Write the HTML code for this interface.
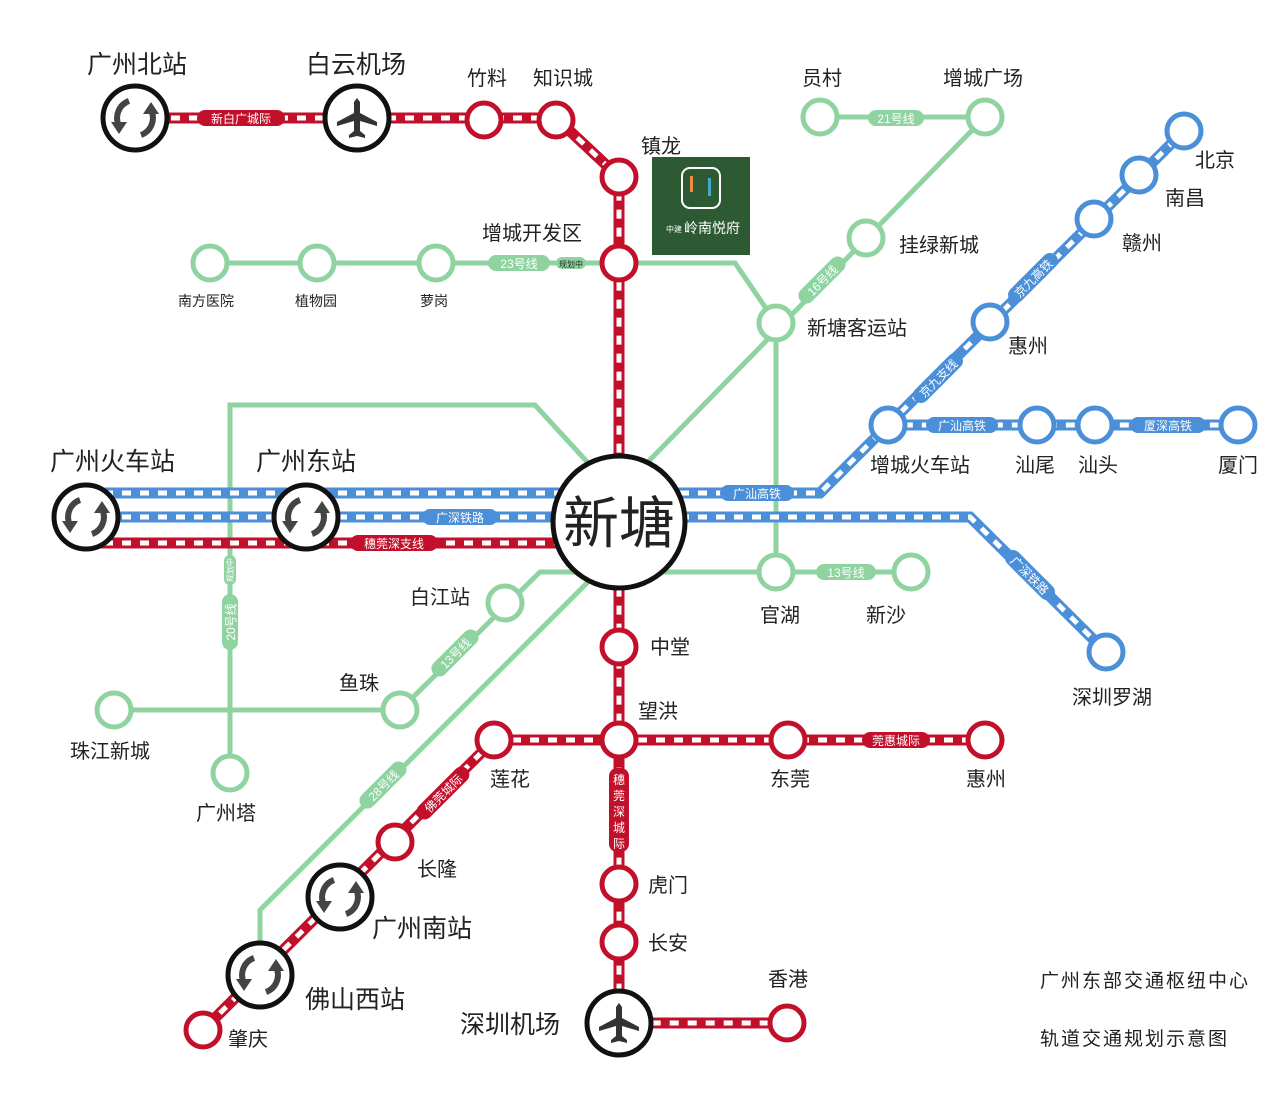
<!DOCTYPE html>
<html><head><meta charset="utf-8"><style>
html,body{margin:0;padding:0;background:#fff;}
svg{display:block;}
text{font-family:"Liberation Sans","Noto Sans CJK SC",sans-serif;fill:#222;}
.b{font-size:25px;}
.m{font-size:20px;}
.s{font-size:14px;}
.p{font-size:12px;fill:#fff;}
</style></head><body>
<svg width="1280" height="1106" viewBox="0 0 1280 1106" xmlns="http://www.w3.org/2000/svg">
<defs>
<g id="xf">
<circle r="32" fill="#fff" stroke="#111" stroke-width="5"/>
<path d="M-6,-17 A18,18 0 0 0 -16,8" fill="none" stroke="#444" stroke-width="6"/>
<polygon points="-24,4 -8,4 -16,16" fill="#444"/>
<path d="M6,17 A18,18 0 0 0 16,-8" fill="none" stroke="#444" stroke-width="6"/>
<polygon points="24,-4 8,-4 16,-16" fill="#444"/>
</g>
<g id="ap">
<circle r="32" fill="#fff" stroke="#111" stroke-width="5"/>
<path d="M0,-20 L3,-16 L3,-5 L20,4 L20,8 L3,3 L3,13 L8,17 L8,20 L0,18 L-8,20 L-8,17 L-3,13 L-3,3 L-20,8 L-20,4 L-3,-5 L-3,-16 Z" fill="#333"/>
</g>
</defs>

<g fill="none" stroke="#8fd3a0" stroke-width="5">
<path d="M820,117 H985"/>
<path d="M985,117 L640,470"/>
<path d="M210,263 H735 L776,323 V572"/>
<path d="M619,572 H911"/>
<path d="M600,572 H540 L400,710 H114"/>
<path d="M230,773 V405 H535 L590,465"/>
<path d="M590,580 L260,910 V945"/>
</g>

<g fill="none">
<path d="M86,493 H820 L888,425 H1238 M888,425 L1184,131" stroke="#4a8fd8" stroke-width="11"/>
<path d="M86,493 H820 L888,425 H1238 M888,425 L1184,131" stroke="#fff" stroke-width="5" stroke-dasharray="9 9"/>
<path d="M86,517 H970 L1106,652" stroke="#4a8fd8" stroke-width="11"/>
<path d="M86,517 H970 L1106,652" stroke="#fff" stroke-width="5" stroke-dasharray="9 9"/>
</g>

<g fill="none">
<path d="M135,118 H556 L619,177 V1023 H787 M494,740 H985 M494,740 L203,1030 M86,543 H619" stroke="#c2102b" stroke-width="11"/>
<path d="M135,118 H556 L619,177 V1023 H787 M494,740 H985 M494,740 L203,1030 M86,543 H619" stroke="#fff" stroke-width="5" stroke-dasharray="9 9"/>
</g>

<g>
<rect x="197" y="110" width="88" height="16" rx="8" fill="#c2102b"/><text class="p" x="241" y="123" text-anchor="middle">新白广城际</text>
<rect x="868" y="110" width="56" height="16" rx="8" fill="#8fd3a0"/><text class="p" x="896" y="123" text-anchor="middle">21号线</text>
<rect x="488" y="255" width="62" height="16" rx="8" fill="#8fd3a0"/><text class="p" x="519" y="268" text-anchor="middle">23号线</text>
<rect x="556" y="257" width="30" height="12" rx="6" fill="#8fd3a0"/><text x="571" y="267" font-size="8" fill="#fff" text-anchor="middle">规划中</text>
<rect x="720" y="485" width="74" height="16" rx="8" fill="#4a8fd8"/><text class="p" x="757" y="498" text-anchor="middle">广汕高铁</text>
<rect x="422" y="509" width="76" height="16" rx="8" fill="#4a8fd8"/><text class="p" x="460" y="522" text-anchor="middle">广深铁路</text>
<rect x="350" y="535" width="88" height="16" rx="8" fill="#c2102b"/><text class="p" x="394" y="548" text-anchor="middle">穗莞深支线</text>
<rect x="926" y="417" width="72" height="16" rx="8" fill="#4a8fd8"/><text class="p" x="962" y="430" text-anchor="middle">广汕高铁</text>
<rect x="1130" y="417" width="76" height="16" rx="8" fill="#4a8fd8"/><text class="p" x="1168" y="430" text-anchor="middle">厦深高铁</text>
<rect x="816" y="564" width="60" height="16" rx="8" fill="#8fd3a0"/><text class="p" x="846" y="577" text-anchor="middle">13号线</text>
<rect x="862" y="732" width="68" height="16" rx="8" fill="#c2102b"/><text class="p" x="896" y="745" text-anchor="middle">莞惠城际</text>
<g transform="translate(822,280) rotate(-45)"><rect x="-30" y="-8" width="60" height="16" rx="8" fill="#8fd3a0"/><text class="p" x="0" y="5" text-anchor="middle">16号线</text></g>
<g transform="translate(1033,278) rotate(-45)"><rect x="-32" y="-8" width="64" height="16" rx="8" fill="#4a8fd8"/><text class="p" x="0" y="5" text-anchor="middle">京九高铁</text></g>
<g transform="translate(938,378) rotate(-45)"><rect x="-32" y="-8" width="64" height="16" rx="8" fill="#4a8fd8"/><text class="p" x="0" y="5" text-anchor="middle">京九支线</text></g>
<g transform="translate(1030,575) rotate(45)"><rect x="-32" y="-8" width="64" height="16" rx="8" fill="#4a8fd8"/><text class="p" x="0" y="5" text-anchor="middle">广深铁路</text></g>
<g transform="translate(455,653) rotate(-45)"><rect x="-30" y="-8" width="60" height="16" rx="8" fill="#8fd3a0"/><text class="p" x="0" y="5" text-anchor="middle">13号线</text></g>
<g transform="translate(383,785) rotate(-45)"><rect x="-30" y="-8" width="60" height="16" rx="8" fill="#8fd3a0"/><text class="p" x="0" y="5" text-anchor="middle">28号线</text></g>
<g transform="translate(443,793) rotate(-45)"><rect x="-34" y="-8" width="68" height="16" rx="8" fill="#c2102b"/><text class="p" x="0" y="5" text-anchor="middle">佛莞城际</text></g>
<g transform="translate(230,622) rotate(-90)"><rect x="-28" y="-8" width="56" height="16" rx="8" fill="#8fd3a0"/><text class="p" x="0" y="5" text-anchor="middle">20号线</text></g>
<g transform="translate(230,570) rotate(-90)"><rect x="-15" y="-6" width="30" height="12" rx="6" fill="#8fd3a0"/><text x="0" y="3" font-size="8" style="fill:#fff" text-anchor="middle">规划中</text></g>
<rect x="609" y="768" width="20" height="84" rx="8" fill="#c2102b"/>
<text class="p" x="619" y="784" text-anchor="middle">穗</text><text class="p" x="619" y="800" text-anchor="middle">莞</text><text class="p" x="619" y="816" text-anchor="middle">深</text><text class="p" x="619" y="832" text-anchor="middle">城</text><text class="p" x="619" y="848" text-anchor="middle">际</text>
</g>

<g fill="#fff" stroke="#8fd3a0" stroke-width="5">
<circle cx="820" cy="117" r="17"/><circle cx="985" cy="117" r="17"/>
<circle cx="866" cy="238" r="17"/><circle cx="776" cy="323" r="17"/>
<circle cx="210" cy="263" r="17"/><circle cx="317" cy="263" r="17"/><circle cx="436" cy="263" r="17"/>
<circle cx="776" cy="572" r="17"/><circle cx="911" cy="572" r="17"/>
<circle cx="505" cy="603" r="17"/><circle cx="400" cy="710" r="17"/><circle cx="114" cy="710" r="17"/>
<circle cx="230" cy="773" r="17"/>
</g>
<g fill="#fff" stroke="#4a8fd8" stroke-width="5">
<circle cx="888" cy="425" r="17"/><circle cx="1037" cy="425" r="17"/><circle cx="1095" cy="425" r="17"/><circle cx="1238" cy="425" r="17"/>
<circle cx="990" cy="322" r="17"/><circle cx="1094" cy="219" r="17"/><circle cx="1139" cy="175" r="17"/><circle cx="1184" cy="131" r="17"/>
<circle cx="1106" cy="652" r="17"/>
</g>
<g fill="#fff" stroke="#c2102b" stroke-width="5">
<circle cx="484" cy="120" r="17"/><circle cx="556" cy="120" r="17"/><circle cx="619" cy="177" r="17"/><circle cx="619" cy="263" r="17"/>
<circle cx="619" cy="647" r="17"/><circle cx="619" cy="740" r="17"/><circle cx="619" cy="884" r="17"/><circle cx="619" cy="942" r="17"/>
<circle cx="787" cy="1023" r="17"/>
<circle cx="494" cy="740" r="17"/><circle cx="788" cy="740" r="17"/><circle cx="985" cy="740" r="17"/>
<circle cx="395" cy="842" r="17"/><circle cx="203" cy="1030" r="17"/>
</g>

<use href="#xf" x="135" y="118"/>
<use href="#ap" x="357" y="118"/>
<use href="#xf" x="86" y="517"/>
<use href="#xf" x="306" y="517"/>
<use href="#xf" x="340" y="897"/>
<use href="#xf" x="260" y="975"/>
<use href="#ap" x="619" y="1023"/>
<circle cx="619" cy="522" r="66" fill="#fff" stroke="#111" stroke-width="5"/>
<text x="619" y="543" font-size="56" text-anchor="middle">新塘</text>

<rect x="652" y="157" width="98" height="98" fill="#2d5a32"/>
<rect x="682" y="168" width="38" height="40" rx="8" fill="none" stroke="#fff" stroke-width="2"/>
<rect x="690" y="176" width="3" height="16" fill="#e84"/><rect x="708" y="178" width="3" height="18" fill="#4ac"/>
<text x="712" y="233" font-size="14" text-anchor="middle" style="fill:#fff">岭南悦府</text>
<text x="666" y="232" font-size="8" style="fill:#fff">中建</text>

<g>
<text class="b" x="87" y="73">广州北站</text>
<text class="b" x="306" y="73">白云机场</text>
<text class="m" x="467" y="85">竹料</text>
<text class="m" x="533" y="85">知识城</text>
<text class="m" x="641" y="153">镇龙</text>
<text class="m" x="482" y="240">增城开发区</text>
<text class="m" x="802" y="85">员村</text>
<text class="m" x="943" y="85">增城广场</text>
<text class="m" x="899" y="252">挂绿新城</text>
<text class="m" x="807" y="335">新塘客运站</text>
<text class="s" x="178" y="306">南方医院</text>
<text class="s" x="295" y="306">植物园</text>
<text class="s" x="420" y="306">萝岗</text>
<text class="m" x="1195" y="167">北京</text>
<text class="m" x="1165" y="205">南昌</text>
<text class="m" x="1122" y="250">赣州</text>
<text class="m" x="1008" y="353">惠州</text>
<text class="m" x="870" y="472">增城火车站</text>
<text class="m" x="1015" y="472">汕尾</text>
<text class="m" x="1078" y="472">汕头</text>
<text class="m" x="1218" y="472">厦门</text>
<text class="b" x="50" y="470">广州火车站</text>
<text class="b" x="256" y="470">广州东站</text>
<text class="m" x="410" y="604">白江站</text>
<text class="m" x="760" y="622">官湖</text>
<text class="m" x="866" y="622">新沙</text>
<text class="m" x="1072" y="704">深圳罗湖</text>
<text class="m" x="339" y="690">鱼珠</text>
<text class="m" x="70" y="758">珠江新城</text>
<text class="m" x="196" y="820">广州塔</text>
<text class="m" x="650" y="654">中堂</text>
<text class="m" x="638" y="718">望洪</text>
<text class="m" x="490" y="786">莲花</text>
<text class="m" x="770" y="786">东莞</text>
<text class="m" x="966" y="786">惠州</text>
<text class="m" x="417" y="876">长隆</text>
<text class="b" x="372" y="937">广州南站</text>
<text class="b" x="305" y="1008">佛山西站</text>
<text class="m" x="228" y="1046">肇庆</text>
<text class="m" x="648" y="892">虎门</text>
<text class="m" x="648" y="950">长安</text>
<text class="m" x="768" y="986">香港</text>
<text class="b" x="460" y="1033">深圳机场</text>
<text x="1040" y="987" font-size="19" letter-spacing="2">广州东部交通枢纽中心</text>
<text x="1040" y="1045" font-size="19" letter-spacing="2">轨道交通规划示意图</text>
</g>
</svg>
</body></html>
